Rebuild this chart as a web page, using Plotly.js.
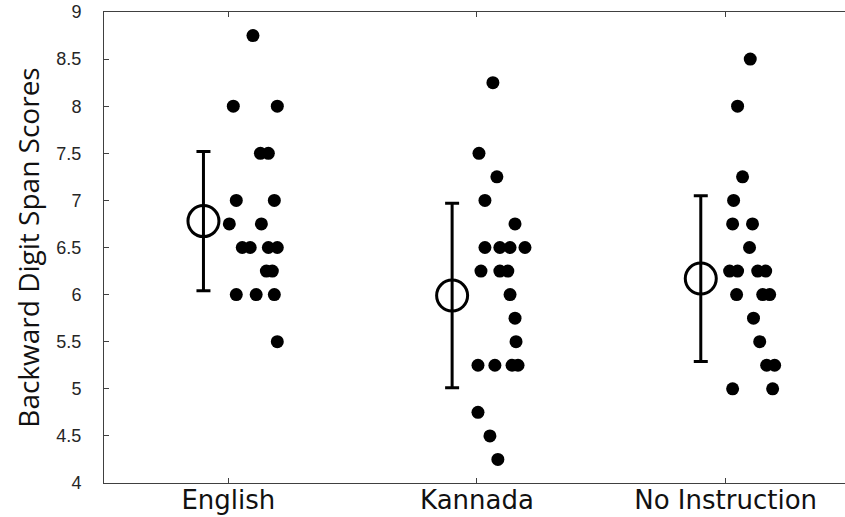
<!DOCTYPE html>
<html>
<head>
<meta charset="utf-8">
<script src="https://cdn.plot.ly/plotly-3.0.1.min.js"></script>
<style>html,body{margin:0;padding:0;background:#fff;}#chart{width:845px;height:517px;}</style>
</head>
<body>
<div id="chart"></div>
<script>
// Categories
const categories = ["English", "Kannada", "No Instruction"];

// Individual scores per group
const englishScores = [8.75, 8, 8, 7.5, 7.5, 7, 7, 6.75, 6.75, 6.5, 6.5, 6.5, 6.5, 6.25, 6.25, 6, 6, 6, 5.5];
const englishJitter = [0.099, 0.02, 0.197, 0.129, 0.161, 0.032, 0.185, 0.004, 0.133, 0.056, 0.088, 0.161, 0.197, 0.153, 0.177, 0.032, 0.112, 0.185, 0.197];

const kannadaScores = [8.25, 7.5, 7.25, 7, 6.75, 6.5, 6.5, 6.5, 6.5, 6.25, 6.25, 6.25, 6, 5.75, 5.5, 5.25, 5.25, 5.25, 5.25, 4.75, 4.5, 4.25];
const kannadaJitter = [0.064, 0.008, 0.08, 0.032, 0.153, 0.032, 0.092, 0.133, 0.193, 0.016, 0.092, 0.124, 0.133, 0.153, 0.157, 0.004, 0.072, 0.141, 0.165, 0.004, 0.052, 0.084];

const noInstrScores = [8.5, 8, 7.25, 7, 6.75, 6.75, 6.5, 6.25, 6.25, 6.25, 6.25, 6, 6, 6, 5.75, 5.5, 5.25, 5.25, 5, 5];
const noInstrJitter = [0.099, 0.048, 0.068, 0.032, 0.028, 0.108, 0.096, 0.016, 0.048, 0.129, 0.161, 0.044, 0.149, 0.177, 0.112, 0.137, 0.165, 0.197, 0.028, 0.189];

// Group means and error half-widths
const groupMeans = [6.78, 5.99, 6.17];
const groupErrors = [0.74, 0.98, 0.88];
const meanOffset = -0.1;

// Y tick labels
const yTickVals = [4, 4.5, 5, 5.5, 6, 6.5, 7, 7.5, 8, 8.5, 9];
const yTickText = ["4", "4.5", "5", "5.5", "6", "6.5", "7", "7.5", "8", "8.5", "9"];

const groups = [
  {scores: englishScores, jitter: englishJitter},
  {scores: kannadaScores, jitter: kannadaJitter},
  {scores: noInstrScores, jitter: noInstrJitter}
];

const traces = groups.map((g, i) => ({
  type: "scatter",
  mode: "markers",
  x: g.jitter.map(j => (i + 1) + j),
  y: g.scores,
  marker: {color: "#000", size: 13, symbol: "circle"},
  showlegend: false,
  hoverinfo: "y"
}));

traces.push({
  type: "scatter",
  mode: "markers",
  x: categories.map((c, i) => (i + 1) + meanOffset),
  y: groupMeans,
  error_y: {type: "data", array: groupErrors, visible: true, color: "#000", thickness: 3, width: 7},
  marker: {symbol: "circle-open", size: 31, color: "#000", line: {width: 3, color: "#000"}},
  showlegend: false
});

const layout = {
  width: 845,
  height: 517,
  margin: {l: 104, r: 0, t: 12, b: 34, autoexpand: false},
  paper_bgcolor: "#fff",
  plot_bgcolor: "#fff",
  showlegend: false,
  xaxis: {
    range: [0.5, 3.48],
    tickvals: [1, 2, 3],
    ticktext: categories,
    showgrid: false,
    zeroline: false,
    showline: true,
    linecolor: "#404040",
    linewidth: 1,
    mirror: "ticks",
    ticks: "inside",
    ticklen: 5,
    tickcolor: "#404040",
    tickfont: {family: "DejaVu Sans", size: 26, color: "#111"},
    ticklabelstandoff: -6,
    automargin: false
  },
  yaxis: {
    range: [4, 9],
    tickvals: yTickVals,
    ticktext: yTickText,
    showgrid: false,
    zeroline: false,
    showline: true,
    linecolor: "#404040",
    linewidth: 1,
    ticks: "inside",
    ticklen: 5,
    tickcolor: "#404040",
    tickfont: {family: "Liberation Sans", size: 18, color: "#262626"},
    ticklabelstandoff: 18,
    automargin: false,
    title: {text: "Backward Digit Span Scores", font: {family: "Open Sans", size: 28, color: "#111"}, standoff: 8}
  }
};

Plotly.newPlot("chart", traces, layout, {displayModeBar: false, staticPlot: true});
</script>
</body>
</html>
